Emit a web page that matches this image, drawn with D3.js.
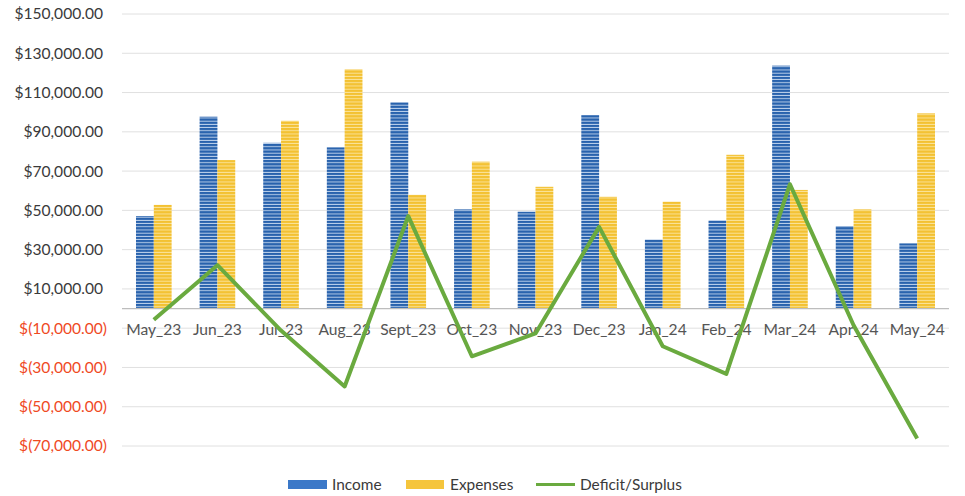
<!DOCTYPE html>
<html>
<head>
<meta charset="utf-8">
<script src="https://cdn.jsdelivr.net/npm/d3@7"></script>
<style>
  body { margin: 0; background: #fff; }
  svg { display: block; font-family: Lato, "Open Sans", sans-serif; }
</style>
</head>
<body>
<div id="chart"></div>
<script>
const width = 965;
const height = 496;

const months = ["May_23", "Jun_23", "Jul_23", "Aug_23", "Sept_23", "Oct_23", "Nov_23",
  "Dec_23", "Jan_24", "Feb_24", "Mar_24", "Apr_24", "May_24"];
const income = [47100, 97700, 84400, 82100, 105000, 50500, 49300, 98500, 35200, 45000, 123700, 42000, 33200];
const expenses = [52800, 75600, 95600, 121800, 57900, 74800, 62000, 56900, 54400, 78300, 60400, 50500, 99400];
const deficit = [-5700, 22100, -11200, -39700, 47100, -24300, -12700, 41600, -19200, -33300, 63300, -8500, -66200];
const yTicks = [150000, 130000, 110000, 90000, 70000, 50000, 30000, 10000, -10000, -30000, -50000, -70000];
const seriesNames = ["Income", "Expenses", "Deficit/Surplus"];

const svg = d3.select("#chart")
  .append("svg")
  .attr("width", width)
  .attr("height", height);

// striped fills, like the scanned bars
const defs = svg.append("defs");
function stripes(id, base, line) {
  const p = defs.append("pattern")
    .attr("id", id)
    .attr("patternUnits", "userSpaceOnUse")
    .attr("width", 6)
    .attr("height", 3.2);
  p.append("rect").attr("width", 6).attr("height", 3.2).attr("fill", base);
  p.append("rect").attr("y", 2.3).attr("width", 6).attr("height", 0.9).attr("fill", line);
}
stripes("incomeFill", "#2862ad", "#c9daf0");
stripes("expenseFill", "#f3c132", "#fbe6a2");

const x = d3.scaleBand()
  .domain(months)
  .range([122, 949])
  .paddingInner(0.44)
  .paddingOuter(0.22);

const x1 = d3.scaleBand()
  .domain(["Income", "Expenses"])
  .range([0, x.bandwidth()]);

const y = d3.scaleLinear()
  .domain([-70000, 150000])
  .range([446, 14]);

const money = v => {
  const s = d3.format(",.2f")(Math.abs(v));
  return v < 0 ? "$(" + s + ")" : "$" + s;
};

// gridlines
svg.append("g")
  .selectAll("line")
  .data(yTicks)
  .join("line")
  .attr("x1", 122)
  .attr("x2", 949)
  .attr("y1", d => y(d))
  .attr("y2", d => y(d))
  .attr("stroke", "#e0e0e0")
  .attr("stroke-width", 1);

// y labels
svg.append("g")
  .selectAll("text")
  .data(yTicks)
  .join("text")
  .attr("x", d => d < 0 ? 107 : 103)
  .attr("y", d => y(d))
  .attr("dy", "0.35em")
  .attr("text-anchor", "end")
  .attr("font-size", 15.6)
  .attr("fill", d => d < 0 ? "#ef4a1f" : "#3a3a3a")
  .text(money);

// bars
const groups = svg.append("g")
  .selectAll("g")
  .data(months)
  .join("g")
  .attr("transform", d => `translate(${x(d)},0)`);

groups.append("rect")
  .attr("x", x1("Income"))
  .attr("width", x1.bandwidth())
  .attr("y", (d, i) => y(income[i]))
  .attr("height", (d, i) => y(0) - y(income[i]))
  .attr("fill", "url(#incomeFill)");

groups.append("rect")
  .attr("x", x1("Expenses"))
  .attr("width", x1.bandwidth())
  .attr("y", (d, i) => y(expenses[i]))
  .attr("height", (d, i) => y(0) - y(expenses[i]))
  .attr("fill", "url(#expenseFill)");

// zero axis line
svg.append("line")
  .attr("x1", 122)
  .attr("x2", 949)
  .attr("y1", y(0))
  .attr("y2", y(0))
  .attr("stroke", "#bdbdbd")
  .attr("stroke-width", 1.2);

// category labels
svg.append("g")
  .selectAll("text")
  .data(months)
  .join("text")
  .attr("x", d => x(d) + x.bandwidth() / 2)
  .attr("y", 330)
  .attr("dy", "0.35em")
  .attr("text-anchor", "middle")
  .attr("font-size", 15.6)
  .attr("fill", "#555")
  .text(d => d);

// deficit / surplus line
const line = d3.line()
  .x((d, i) => x(months[i]) + x.bandwidth() / 2)
  .y(d => y(d));

svg.append("path")
  .datum(deficit)
  .attr("d", line)
  .attr("fill", "none")
  .attr("stroke", "#6aaa3f")
  .attr("stroke-width", 4)
  .attr("stroke-linejoin", "round");

// legend
const legend = svg.append("g").attr("font-size", 15.4).attr("fill", "#3a3a3a");
const legendX = [288, 406, 536];

legend.append("rect").attr("x", legendX[0]).attr("y", 480).attr("width", 39).attr("height", 9).attr("fill", "#3b78c8");
legend.append("rect").attr("x", legendX[1]).attr("y", 480).attr("width", 38).attr("height", 9).attr("fill", "#f5c53c");
legend.append("line").attr("x1", legendX[2]).attr("x2", legendX[2] + 39)
  .attr("y1", 484.5).attr("y2", 484.5).attr("stroke", "#6aaa3f").attr("stroke-width", 3);

legend.selectAll("text")
  .data(seriesNames)
  .join("text")
  .attr("x", (d, i) => legendX[i] + 44)
  .attr("y", 485)
  .attr("dy", "0.35em")
  .text(d => d);
</script>
</body>
</html>
